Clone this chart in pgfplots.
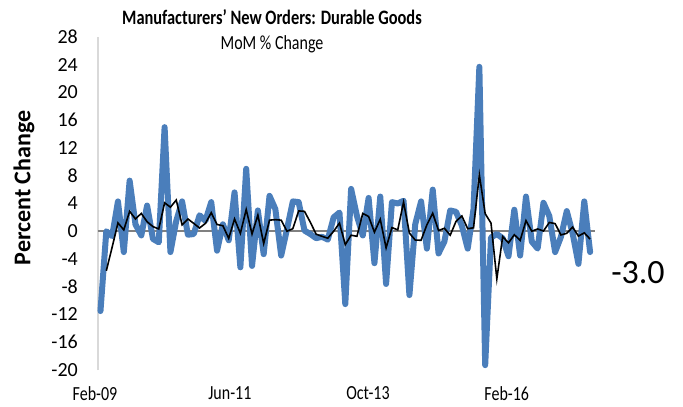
\documentclass[border=0pt]{standalone}
\usepackage{fontspec}
\setmainfont{Carlito}
\usepackage{graphicx}
\usepackage{pgfplots}
\usepackage{pgfplotstable}
\pgfplotsset{compat=1.18}
\definecolor{xlblue}{HTML}{4A7EBB}
\definecolor{axgray}{HTML}{D9D9D9}
\definecolor{zerogray}{HTML}{808080}

\pgfplotstableread{
i a
0 -11.5
1 0.0
2 -0.7
3 4.3
4 -3.0
5 7.3
6 1.0
7 -0.6
8 3.7
9 -1.1
10 -1.6
11 15.0
12 -3.0
13 1.5
14 4.3
15 -0.5
16 -0.4
17 2.3
18 1.5
19 4.2
20 -2.8
21 1.0
22 -1.3
23 5.6
24 -5.2
25 9.0
26 -5.0
27 3.0
28 -3.3
29 5.1
30 3.2
31 -3.5
32 0.3
33 4.3
34 4.2
35 0.1
36 -0.4
37 -1.0
38 -0.8
39 -1.2
40 2.0
41 2.7
42 -10.5
43 6.1
44 2.2
45 -0.6
46 4.8
47 -4.6
48 5.0
49 -7.6
50 4.2
51 4.0
52 4.4
53 -9.2
54 1.0
55 4.3
56 -2.5
57 6.0
58 -3.2
59 -1.5
60 3.0
61 2.8
62 0.8
63 -2.5
64 3.2
65 23.7
66 -19.3
67 -0.9
68 -0.4
69 -1.0
70 -3.6
71 3.1
72 -3.5
73 5.0
74 -1.5
75 -2.5
76 4.1
77 2.2
78 -3.0
79 -0.8
80 2.9
81 -0.3
82 -4.7
83 4.3
84 -3.0
}\mom

\pgfplotstableread{
i m
1 -5.7
2 -2.3
3 1.2
4 0.2
5 2.87
6 1.77
7 2.57
8 1.37
9 0.67
10 0.33
11 4.1
12 3.47
13 4.5
14 0.93
15 1.77
16 1.13
17 0.47
18 1.13
19 2.67
20 0.97
21 0.8
22 -1.03
23 1.77
24 -0.3
25 3.13
26 -0.4
27 2.33
28 -1.77
29 1.6
30 1.67
31 1.6
32 0.0
33 0.37
34 2.93
35 2.87
36 1.3
37 -0.43
38 -0.73
39 -1.0
40 0.0
41 1.17
42 -1.93
43 -0.57
44 -0.73
45 2.57
46 2.13
47 -0.13
48 1.73
49 -2.4
50 0.53
51 0.2
52 4.2
53 -0.27
54 -1.27
55 -1.3
56 0.93
57 2.6
58 0.1
59 0.43
60 -0.57
61 1.43
62 2.2
63 0.37
64 0.5
65 8.13
66 2.53
67 1.17
68 -6.87
69 -0.77
70 -1.67
71 -0.5
72 -1.33
73 1.53
74 0.0
75 0.33
76 0.03
77 1.27
78 1.1
79 -0.53
80 -0.3
81 0.6
82 -0.7
83 -0.23
84 -1.13
}\avg

\newcommand{\vs}[1]{\scalebox{1}[1.25]{#1}}

\begin{document}
\begin{tikzpicture}[x=1bp,y=1bp]
\useasboundingbox (0,0) rectangle (683,406);
\begin{axis}[
  at={(95bp,36bp)}, anchor=south west,
  scale only axis, width=498bp, height=333bp,
  xmin=-0.94, xmax=84.5, ymin=-20, ymax=28,
  axis line style={draw=none},
  major tick length=0pt,
  xtick={-0.94,22.2,45.9,69.7},
  xticklabels={\vs{Feb-09},\vs{Jun-11},\vs{Oct-13},\vs{Feb-16}},
  ytick={-20,-16,...,28},
  xtick pos=bottom, ytick pos=left,
  xticklabel style={font=\fontsize{16bp}{19bp}\selectfont, inner sep=0pt, anchor=north, yshift=-16bp},
  yticklabel style={font=\fontsize{20bp}{24bp}\selectfont, inner sep=0pt, anchor=east, xshift=-17bp},
  /pgf/number format/assume math mode=true,
  clip=false,
]
\addplot[color=axgray, line width=2bp] coordinates {(-0.43,-20) (-0.43,28)};
\addplot[color=zerogray, line width=2bp] coordinates {(-0.43,0) (84.8,0)};
\addplot[color=xlblue, line width=6bp, line join=round, line cap=round] table[x=i, y=a] {\mom};
\addplot[color=black, line width=1.6bp, line join=miter] table[x=i, y=m] {\avg};
\end{axis}
\node[font=\bfseries\fontsize{16.4bp}{19bp}\selectfont] at (272,388.5) {\vs{Manufacturers' New Orders: Durable Goods}};
\node[font=\fontsize{16bp}{19bp}\selectfont] at (272,361.5) {\vs{MoM \% Change}};
\node[rotate=90, font=\bfseries\fontsize{24bp}{28bp}\selectfont] at (24,218) {Percent Change};
\node[font=\fontsize{34bp}{40bp}\selectfont] at (638,133) {-3.0};
\end{tikzpicture}
\end{document}
